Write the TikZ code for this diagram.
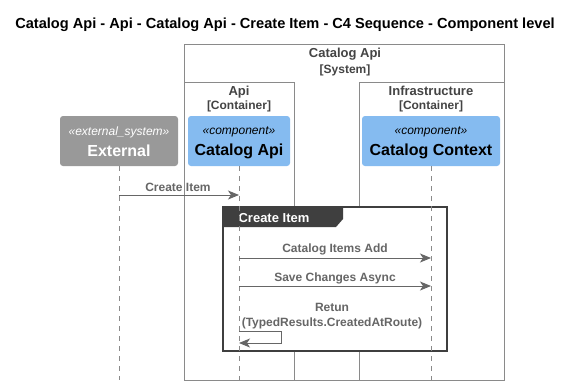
\documentclass[tikz,border=0pt]{standalone}
\usepackage{fontspec}
\setmainfont{Liberation Sans}
\usetikzlibrary{arrows.meta}
\definecolor{extgray}{HTML}{999999}
\definecolor{compblue}{HTML}{85BBF0}
\definecolor{msggray}{HTML}{666666}
\definecolor{bndgray}{HTML}{8A8A8A}
\definecolor{titlegray}{HTML}{444444}
\definecolor{framedark}{HTML}{3F3F3F}
\newcommand{\fs}[1]{\fontsize{#1}{#1}\selectfont}
\tikzset{
  boundary/.style={draw=bndgray, line width=0.8pt},
  bndtitle/.style={text=titlegray, font=\bfseries\fs{13}, align=center, inner sep=0pt},
  bndsub/.style={text=titlegray, font=\bfseries\fs{12}, inner sep=0pt},
  compbox/.style={rounded corners=3pt, inner sep=0pt, draw=none},
  stereo/.style={font=\itshape\fs{12}, inner sep=0pt},
  compname/.style={font=\bfseries\fs{16}, inner sep=0pt},
  lifeline/.style={draw=bndgray, line width=0.7pt, dash pattern=on 5pt off 5pt},
  msg/.style={draw=msggray, line width=1pt, -{Stealth[length=11pt,width=9pt,inset=3pt]}},
  msglabel/.style={text=msggray, font=\bfseries\fs{12}, inner sep=0pt, align=center},
}
\begin{document}
\begin{tikzpicture}[x=1pt,y=-1pt]
\useasboundingbox[fill=white] (0,0) rectangle (571,386);

% title
\node[inner sep=0pt, font=\bfseries\fs{14.6}] (title) at (285,25) {Catalog Api - Api - Catalog Api - Create Item - C4 Sequence - Component level};

% boundaries
\draw[boundary] (184,44) rectangle (504,380);
\node[bndtitle] (systitle) at (345,54) {Catalog Api};
\node[bndsub] (syssub) at (345,70) {[System]};
\draw[boundary] (184,82) rectangle (294,380);
\node[bndtitle] (apititle) at (239,92) {Api};
\node[bndsub] (apisub) at (239,106) {[Container]};
\draw[boundary] (359,82) rectangle (504,380);
\node[bndtitle] (infratitle) at (431,91) {Infrastructure};
\node[bndsub] (infrasub) at (431,106) {[Container]};

% participants
\path[compbox, fill=extgray] (60,116) rectangle (178,166);
\node[stereo, text=white] (extst) at (119,132) {«external\_system»};
\node[compname, text=white] (ext) at (119,151) {External};
\coordinate (extbot) at (119,166);

\path[compbox, fill=compblue] (188,116) rectangle (290,166);
\node[stereo] (apist) at (239,132) {«component»};
\node[compname] (api) at (239,151) {Catalog Api};
\coordinate (apibot) at (239,166);

\path[compbox, fill=compblue] (362,116) rectangle (500,166);
\node[stereo] (ctxst) at (431,132) {«component»};
\node[compname] (ctx) at (431,151) {Catalog Context};
\coordinate (ctxbot) at (431,166);

% group frame (covers the container borders)
\draw[fill=white, draw=framedark, line width=1.5pt] (223,207) rectangle (447,351);
\fill[framedark] (223,207) -- (343,207) -- (343,219) -- (336,227) -- (223,227) -- cycle;
\node[inner sep=0pt, text=white, font=\bfseries\fs{13}] (grp) at (274,218) {Create Item};

% lifelines
\coordinate (extend) at (119,380);
\coordinate (apiend) at (239,380);
\coordinate (ctxend) at (431,380);
\draw[lifeline] (extbot) -- (extend);
\draw[lifeline] (apibot) -- (apiend);
\draw[lifeline] (ctxbot) -- (ctxend);

% messages
\coordinate (m1a) at (119,195);
\coordinate (m1b) at (239,195);
\draw[msg] (m1a) -- (m1b);
\node[msglabel] (l1) at (178,187) {Create Item};

\coordinate (m2a) at (239,258);
\coordinate (m2b) at (431,258);
\draw[msg] (m2a) -- (m2b);
\node[msglabel] (l2) at (335,249) {Catalog Items Add};

\coordinate (m3a) at (239,286);
\coordinate (m3b) at (431,286);
\draw[msg] (m3a) -- (m3b);
\node[msglabel] (l3) at (335,278) {Save Changes Async};

\node[msglabel] (l4) at (332,307) {Retun};
\node[msglabel] (l5) at (332,323) {(TypedResults.CreatedAtRoute)};
\coordinate (m4a) at (239,331);
\coordinate (m4b) at (239,343);
\draw[msg] (m4a) -- (281,331) -- (281,343) -- (m4b);
\end{tikzpicture}
\end{document}
